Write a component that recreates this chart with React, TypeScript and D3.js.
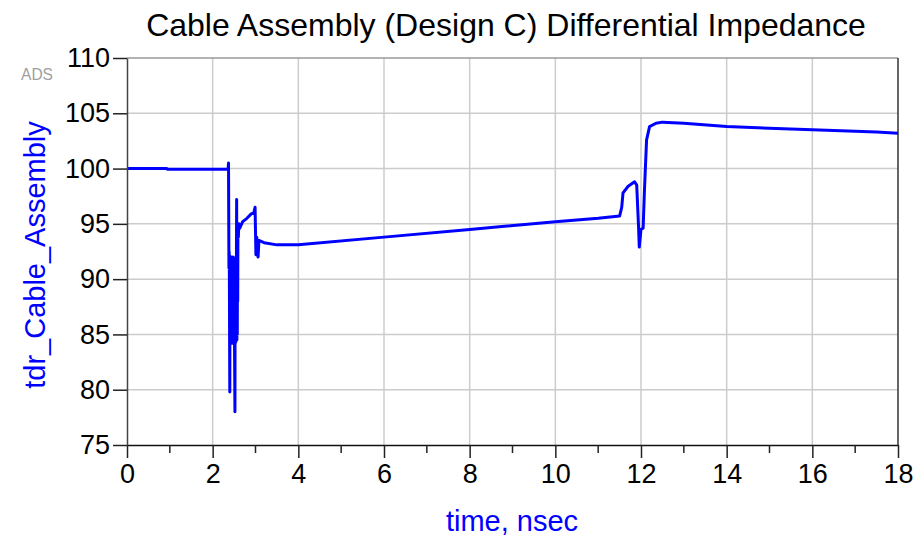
import { useEffect, useRef } from 'react';
import * as d3 from 'd3';

// time in nsec
const timeNs = [
  0, 0.93, 0.94, 2.36, 2.37, 2.38, 2.385, 2.39, 2.4, 2.405, 2.41, 2.415, 2.42,
  2.425, 2.43, 2.435, 2.44, 2.445, 2.45, 2.455, 2.46, 2.465, 2.47, 2.475, 2.48,
  2.485, 2.49, 2.495, 2.5, 2.505, 2.51, 2.52, 2.525, 2.53, 2.535, 2.54, 2.545,
  2.55, 2.555, 2.56, 2.565, 2.57, 2.575, 2.58, 2.585, 2.59, 2.6, 2.61, 2.63, 2.7,
  2.8, 2.9, 2.96, 2.99, 3.01, 3.03, 3.06, 3.08, 3.2, 3.5, 4, 6, 8, 10, 11, 11.5,
  11.55, 11.58, 11.7, 11.85, 11.9, 11.94, 11.96, 12.0, 12.05, 12.08, 12.13, 12.2,
  12.35, 12.5, 13, 14, 16, 17.5, 18,
];
// differential impedance (ohm)
const impedance = [
  100, 100, 99.93, 99.93, 100.5, 91, 92.5, 90.5, 79.8, 91.8, 84.3, 91.7, 84.2,
  92, 84.5, 91.8, 84.2, 92, 84.4, 91.7, 84.2, 91.9, 84.3, 92, 84.5, 91.6, 84.3,
  91.8, 84.5, 91.7, 84.3, 78.0, 91.0, 84.5, 91.8, 84.3, 92, 84.5, 92.5, 97.2,
  84.5, 93.5, 85, 94.5, 88, 95.0, 93.8, 95.0, 94.6, 95.2, 95.5, 95.9, 96.0, 96.5,
  92.2, 93.8, 92.0, 93.5, 93.3, 93.1, 93.1, 93.8, 94.5, 95.2, 95.5, 95.7, 96.5,
  97.8, 98.4, 98.8, 98.5, 95, 92.9, 94.5, 94.6, 98, 102.6, 103.8, 104.1, 104.2,
  104.1, 103.8, 103.5, 103.3, 103.2,
];

const xTicks = [0, 2, 4, 6, 8, 10, 12, 14, 16, 18];
const xMinorTicks = [1, 3, 5, 7, 9, 11, 13, 15, 17];
const yTicks = [75, 80, 85, 90, 95, 100, 105, 110];

const W = 918;
const H = 537;
const FONT = 'Arial, "Liberation Sans", sans-serif';

const App = () => {
  const svgRef = useRef(null);

  useEffect(() => {
    const margin = { top: 58, right: 20, bottom: 92, left: 127 };
    const width = W - margin.left - margin.right;
    const height = H - margin.top - margin.bottom;

    const svgRoot = d3.select(svgRef.current);
    svgRoot.selectAll('*').remove();
    const svg = svgRoot
      .append('g')
      .attr('transform', `translate(${margin.left},${margin.top})`);

    const x = d3.scaleLinear().domain([0, 18]).range([0, width]);
    const y = d3.scaleLinear().domain([75, 110]).range([height, 0]);

    // 格線
    svg
      .selectAll('.vgrid')
      .data(xTicks.slice(1, -1))
      .enter()
      .append('line')
      .attr('x1', (d) => x(d))
      .attr('x2', (d) => x(d))
      .attr('y1', 0)
      .attr('y2', height)
      .attr('stroke', '#cccccc')
      .attr('stroke-width', 1.5);
    svg
      .selectAll('.hgrid')
      .data(yTicks.slice(1))
      .enter()
      .append('line')
      .attr('x1', 0)
      .attr('x2', width)
      .attr('y1', (d) => y(d))
      .attr('y2', (d) => y(d))
      .attr('stroke', (d) => (d === 110 ? '#999999' : '#cccccc'))
      .attr('stroke-width', 1.5);

    // right frame
    svg
      .append('line')
      .attr('x1', width)
      .attr('x2', width)
      .attr('y1', 0)
      .attr('y2', height)
      .attr('stroke', '#333')
      .attr('stroke-width', 1.5);

    // data line
    const pts = timeNs.map((t, i) => [t, impedance[i]]);
    svg
      .append('path')
      .datum(pts)
      .attr('fill', 'none')
      .attr('stroke', '#0000ff')
      .attr('stroke-width', 3)
      .attr('stroke-linejoin', 'round')
      .attr('d', d3.line().x((d) => x(d[0])).y((d) => y(d[1])));

    // 座標軸
    const xAxis = svg
      .append('g')
      .attr('transform', `translate(0,${height})`)
      .call(d3.axisBottom(x).tickValues(xTicks).tickSize(13).tickSizeOuter(0).tickPadding(6));
    xAxis.select('.domain').attr('stroke', '#111').attr('stroke-width', 1.5);
    xAxis.selectAll('.tick line').attr('stroke', '#222').attr('stroke-width', 1.5);
    xAxis
      .selectAll('text')
      .attr('fill', '#000')
      .style('font-family', FONT)
      .style('font-size', '27px');
    svg
      .append('g')
      .attr('transform', `translate(0,${height})`)
      .selectAll('line')
      .data(xMinorTicks)
      .enter()
      .append('line')
      .attr('x1', (d) => x(d))
      .attr('x2', (d) => x(d))
      .attr('y1', 0)
      .attr('y2', 8)
      .attr('stroke', '#222')
      .attr('stroke-width', 1.5);

    const yAxis = svg
      .append('g')
      .call(d3.axisLeft(y).tickValues(yTicks).tickSize(14).tickSizeOuter(0).tickPadding(3));
    yAxis.select('.domain').attr('stroke', '#444').attr('stroke-width', 1.5);
    yAxis.selectAll('.tick line').attr('stroke', '#222').attr('stroke-width', 1.5);
    yAxis
      .selectAll('text')
      .attr('fill', '#000')
      .style('font-family', FONT)
      .style('font-size', '27px');

    // 標題與軸標籤
    svgRoot
      .append('text')
      .attr('x', 506)
      .attr('y', 36)
      .attr('text-anchor', 'middle')
      .style('font-family', FONT)
      .style('font-size', '32px')
      .attr('fill', '#000')
      .text('Cable Assembly (Design C) Differential Impedance');

    svgRoot
      .append('text')
      .attr('x', 512)
      .attr('y', 531)
      .attr('text-anchor', 'middle')
      .style('font-family', FONT)
      .style('font-size', '29px')
      .attr('fill', '#0000ff')
      .text('time, nsec');

    svgRoot
      .append('text')
      .attr('transform', `translate(45,255) rotate(-90)`)
      .attr('text-anchor', 'middle')
      .style('font-family', FONT)
      .style('font-size', '29px')
      .attr('fill', '#0000ff')
      .text('tdr_Cable_Assembly');

    svgRoot
      .append('text')
      .attr('x', 21)
      .attr('y', 80)
      .attr('textLength', 32)
      .attr('lengthAdjust', 'spacingAndGlyphs')
      .style('font-family', FONT)
      .style('font-size', '17px')
      .attr('fill', '#a0a0a0')
      .text('ADS');
  }, []);

  return (
    <svg
      ref={svgRef}
      width={W}
      height={H}
      style={{ position: 'absolute', left: 0, top: 0, background: '#fff' }}
    />
  );
};

export default App;
